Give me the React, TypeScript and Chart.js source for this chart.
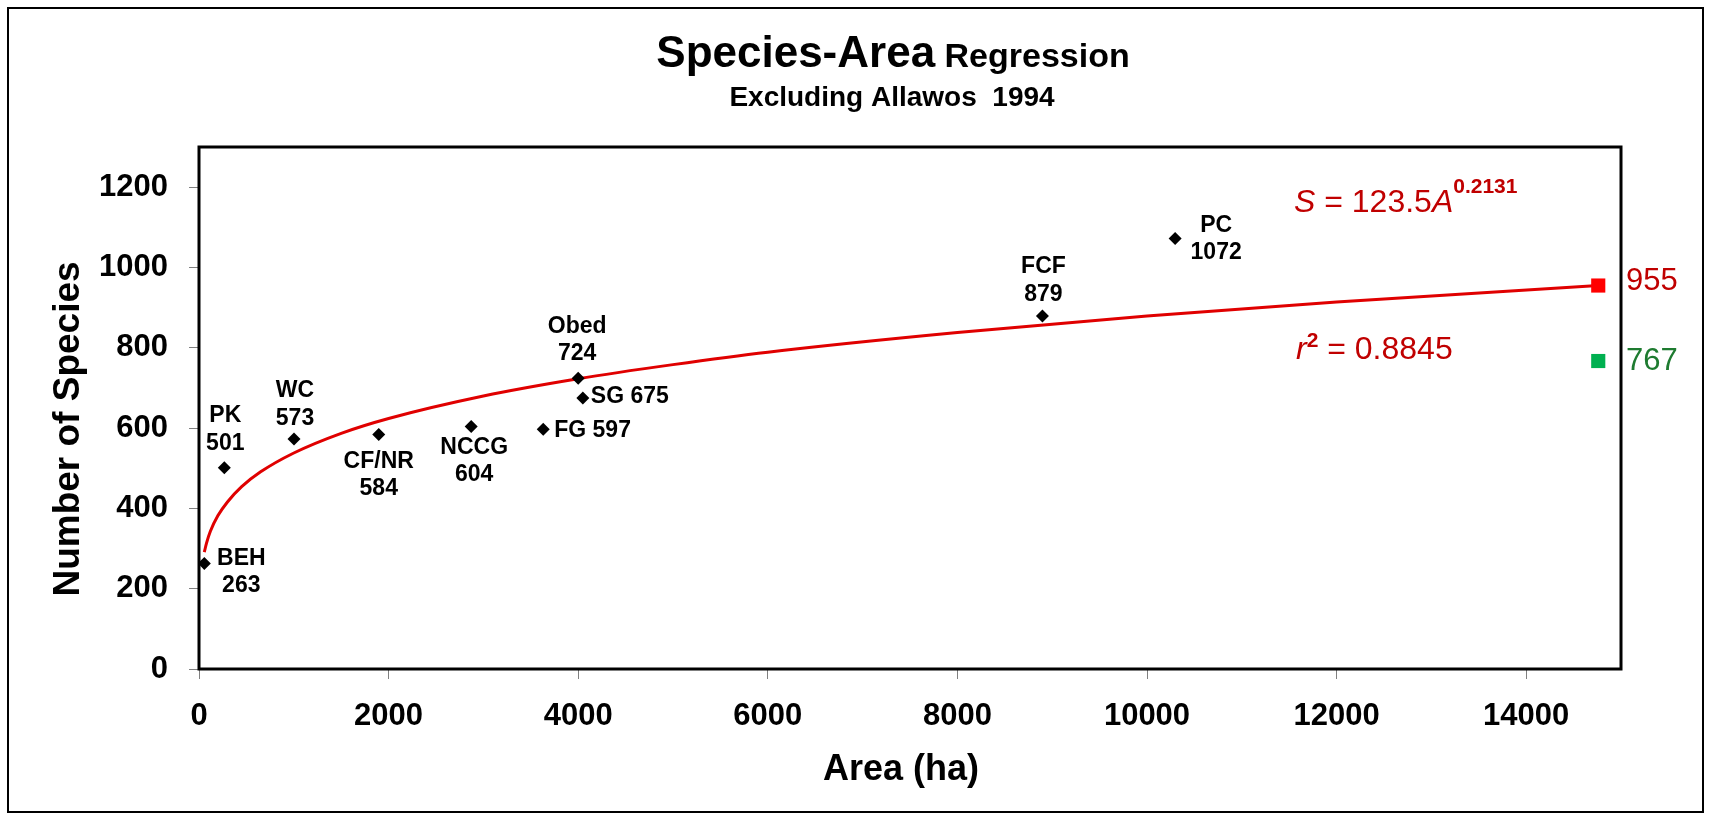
import React, { useEffect, useRef } from 'react';
import { Chart, registerables } from 'chart.js';

Chart.register(...registerables);

const FONT = '"Liberation Sans", Arial, Helvetica, sans-serif';

// Sites (area in ha, number of species)
const siteNames = ['BEH', 'PK', 'WC', 'CF/NR', 'NCCG', 'FG', 'SG', 'Obed', 'FCF', 'PC'];
const siteArea = [56, 267, 1002, 1896, 2871, 3631, 4049, 4000, 8897, 10297];
const siteSpecies = [263, 501, 573, 584, 604, 597, 675, 724, 879, 1072];

// Regression curve
const trendArea = [56, 80, 120, 200, 300, 450, 650, 1000, 1500, 2000, 3000, 4000, 5000, 6000, 8000, 10000, 12000, 14760];
const trendSpecies = [291, 314, 343, 382, 416, 454, 491, 538, 587, 624, 680, 723, 758, 789, 838, 879, 914, 955];

// Predicted vs observed for the excluded site
const predictedArea = [14760];
const predictedSpecies = [955];
const observedSpecies = [767];

// Axis ticks
const xTicks = [0, 2000, 4000, 6000, 8000, 10000, 12000, 14000];
const yTicks = [0, 200, 400, 600, 800, 1000, 1200];

// Label placement relative to each point: [kind, dx, dy]
const labelPlacement: [string, number, number][] = [
  ['stack', 37, -5],
  ['stack', 1, -52],
  ['stack', 1, -48],
  ['stack', 0, 27],
  ['stack', 3, 21],
  ['inline', 11, 1],
  ['inline', 8, -1],
  ['stack', -1, -52],
  ['stack', 1, -49],
  ['stack', 41, -13],
];

const DARK_RED = '#C00000';
const DARK_GREEN = '#1E7B30';

export default function App() {
  const ref = useRef<HTMLCanvasElement | null>(null);

  useEffect(() => {
    const canvas = ref.current;
    if (!canvas) return;

    const overlay = {
      id: 'overlay',
      afterDatasetsDraw(chart: any) {
        const ctx = chart.ctx as CanvasRenderingContext2D;
        const { left, top, right, bottom } = chart.chartArea;
        ctx.save();
        ctx.strokeStyle = '#000';
        ctx.lineWidth = 3;
        ctx.strokeRect(left, top, right - left, bottom - top);
        ctx.restore();
      },
      afterDraw(chart: any) {
        const ctx = chart.ctx as CanvasRenderingContext2D;
        const xs = chart.scales.x;
        const ys = chart.scales.y;
        ctx.save();

        // outer border
        ctx.strokeStyle = '#000';
        ctx.lineWidth = 2;
        ctx.strokeRect(8, 8, 1695, 804);

        // title
        ctx.fillStyle = '#000';
        ctx.textBaseline = 'alphabetic';
        ctx.textAlign = 'left';
        const f1 = `bold 44px ${FONT}`;
        const f2 = `bold 34px ${FONT}`;
        ctx.font = f1;
        const w1 = ctx.measureText('Species-Area').width;
        ctx.font = f2;
        const wsp = ctx.measureText(' ').width;
        const w2 = ctx.measureText('Regression').width;
        const tx = 893 - (w1 + wsp + w2) / 2;
        ctx.font = f1;
        ctx.fillText('Species-Area', tx, 67);
        ctx.font = f2;
        ctx.fillText('Regression', tx + w1 + wsp, 67);

        ctx.textAlign = 'center';
        ctx.font = `bold 28px ${FONT}`;
        ctx.fillText('Excluding Allawos  1994', 892, 106);

        // axis titles
        ctx.font = `bold 36px ${FONT}`;
        ctx.fillText('Area (ha)', 901, 780);

        ctx.save();
        ctx.translate(79, 429);
        ctx.rotate(-Math.PI / 2);
        ctx.font = `bold 37px ${FONT}`;
        ctx.fillText('Number of Species', 0, 0);
        ctx.restore();

        // site labels
        ctx.font = `bold 23px ${FONT}`;
        ctx.textBaseline = 'middle';
        siteNames.forEach((name, i) => {
          const px = xs.getPixelForValue(siteArea[i]);
          const py = ys.getPixelForValue(siteSpecies[i]);
          const [kind, dx, dy] = labelPlacement[i];
          if (kind === 'inline') {
            ctx.textAlign = 'left';
            ctx.fillText(`${name} ${siteSpecies[i]}`, px + dx, py + dy);
          } else {
            ctx.textAlign = 'center';
            ctx.fillText(name, px + dx, py + dy);
            ctx.fillText(String(siteSpecies[i]), px + dx, py + dy + 27.5);
          }
        });

        // equation
        ctx.textBaseline = 'alphabetic';
        ctx.textAlign = 'left';
        ctx.fillStyle = DARK_RED;
        const reg = `32px ${FONT}`;
        const ital = `italic 32px ${FONT}`;
        const sup = `bold 21px ${FONT}`;
        let x = 1294;
        const parts1: [string, string, number][] = [
          ['S', ital, 212],
          [' = 123.5', reg, 212],
          ['A', ital, 212],
          ['0.2131', sup, 193],
        ];
        parts1.forEach(([t, f, b]) => {
          ctx.font = f;
          ctx.fillText(t, x, b);
          x += ctx.measureText(t).width;
        });
        x = 1296;
        const parts2: [string, string, number][] = [
          ['r', ital, 359],
          ['2', sup, 347],
          [' = 0.8845', reg, 359],
        ];
        parts2.forEach(([t, f, b]) => {
          ctx.font = f;
          ctx.fillText(t, x, b);
          x += ctx.measureText(t).width;
        });

        // predicted / observed values
        ctx.font = `31px ${FONT}`;
        ctx.textBaseline = 'middle';
        ctx.fillStyle = DARK_RED;
        ctx.fillText(String(predictedSpecies[0]), 1626, ys.getPixelForValue(predictedSpecies[0]) - 4);
        ctx.fillStyle = DARK_GREEN;
        ctx.fillText(String(observedSpecies[0]), 1626, ys.getPixelForValue(observedSpecies[0]));

        ctx.restore();
      },
    };

    const tickFont = { family: FONT, size: 31, weight: 'bold' as const };

    const chart = new Chart(canvas, {
      type: 'scatter',
      data: {
        datasets: [
          {
            label: 'Sites',
            data: siteArea.map((a, i) => ({ x: a, y: siteSpecies[i] })),
            pointStyle: 'rectRot',
            pointRadius: 6.5,
            pointHoverRadius: 6.5,
            pointBackgroundColor: '#000',
            pointBorderColor: '#000',
            pointBorderWidth: 0,
            order: 0,
          },
          {
            label: 'Predicted',
            data: predictedArea.map((a, i) => ({ x: a, y: predictedSpecies[i] })),
            pointStyle: 'rect',
            pointRadius: 10,
            pointHoverRadius: 10,
            pointBackgroundColor: '#FF0000',
            pointBorderWidth: 0,
            order: 1,
          },
          {
            label: 'Observed',
            data: predictedArea.map((a, i) => ({ x: a, y: observedSpecies[i] })),
            pointStyle: 'rect',
            pointRadius: 10,
            pointHoverRadius: 10,
            pointBackgroundColor: '#00B050',
            pointBorderWidth: 0,
            order: 2,
          },
          {
            label: 'Trend',
            data: trendArea.map((a, i) => ({ x: a, y: trendSpecies[i] })),
            showLine: true,
            pointRadius: 0,
            pointHoverRadius: 0,
            borderColor: '#E00000',
            borderWidth: 3,
            cubicInterpolationMode: 'monotone',
            fill: false,
            order: 3,
          } as any,
        ],
      },
      options: {
        animation: false,
        responsive: false,
        events: [],
        layout: { padding: { top: 147, right: 88, left: 0, bottom: 0 } },
        plugins: {
          legend: { display: false },
          tooltip: { enabled: false },
          title: { display: false },
        },
        scales: {
          x: {
            type: 'linear',
            position: 'bottom',
            min: 0,
            max: 15000,
            afterBuildTicks: (s: any) => {
              s.ticks = xTicks.map((v) => ({ value: v }));
            },
            afterFit: (s: any) => {
              s.height = 145;
            },
            ticks: {
              font: tickFont,
              color: '#000',
              padding: 19,
              maxRotation: 0,
              autoSkip: false,
              callback: (v: any) => String(v),
            },
            grid: { drawOnChartArea: false, drawTicks: true, tickLength: 10, color: '#808080', lineWidth: 1 },
            border: { display: false },
          },
          y: {
            type: 'linear',
            position: 'left',
            min: 0,
            max: 1300,
            afterBuildTicks: (s: any) => {
              s.ticks = yTicks.map((v) => ({ value: v }));
            },
            afterFit: (s: any) => {
              s.width = 199;
            },
            ticks: {
              font: tickFont,
              color: '#000',
              padding: 21,
              autoSkip: false,
              callback: (v: any) => String(v),
            },
            grid: { drawOnChartArea: false, drawTicks: true, tickLength: 10, color: '#808080', lineWidth: 1 },
            border: { display: false },
          },
        },
      },
      plugins: [overlay],
    });

    return () => chart.destroy();
  }, []);

  return (
    <div style={{ position: 'fixed', left: 0, top: 0, width: 1709, height: 814, background: '#fff' }}>
      <canvas ref={ref} width={1709} height={814} style={{ display: 'block', width: 1709, height: 814 }} />
    </div>
  );
}
